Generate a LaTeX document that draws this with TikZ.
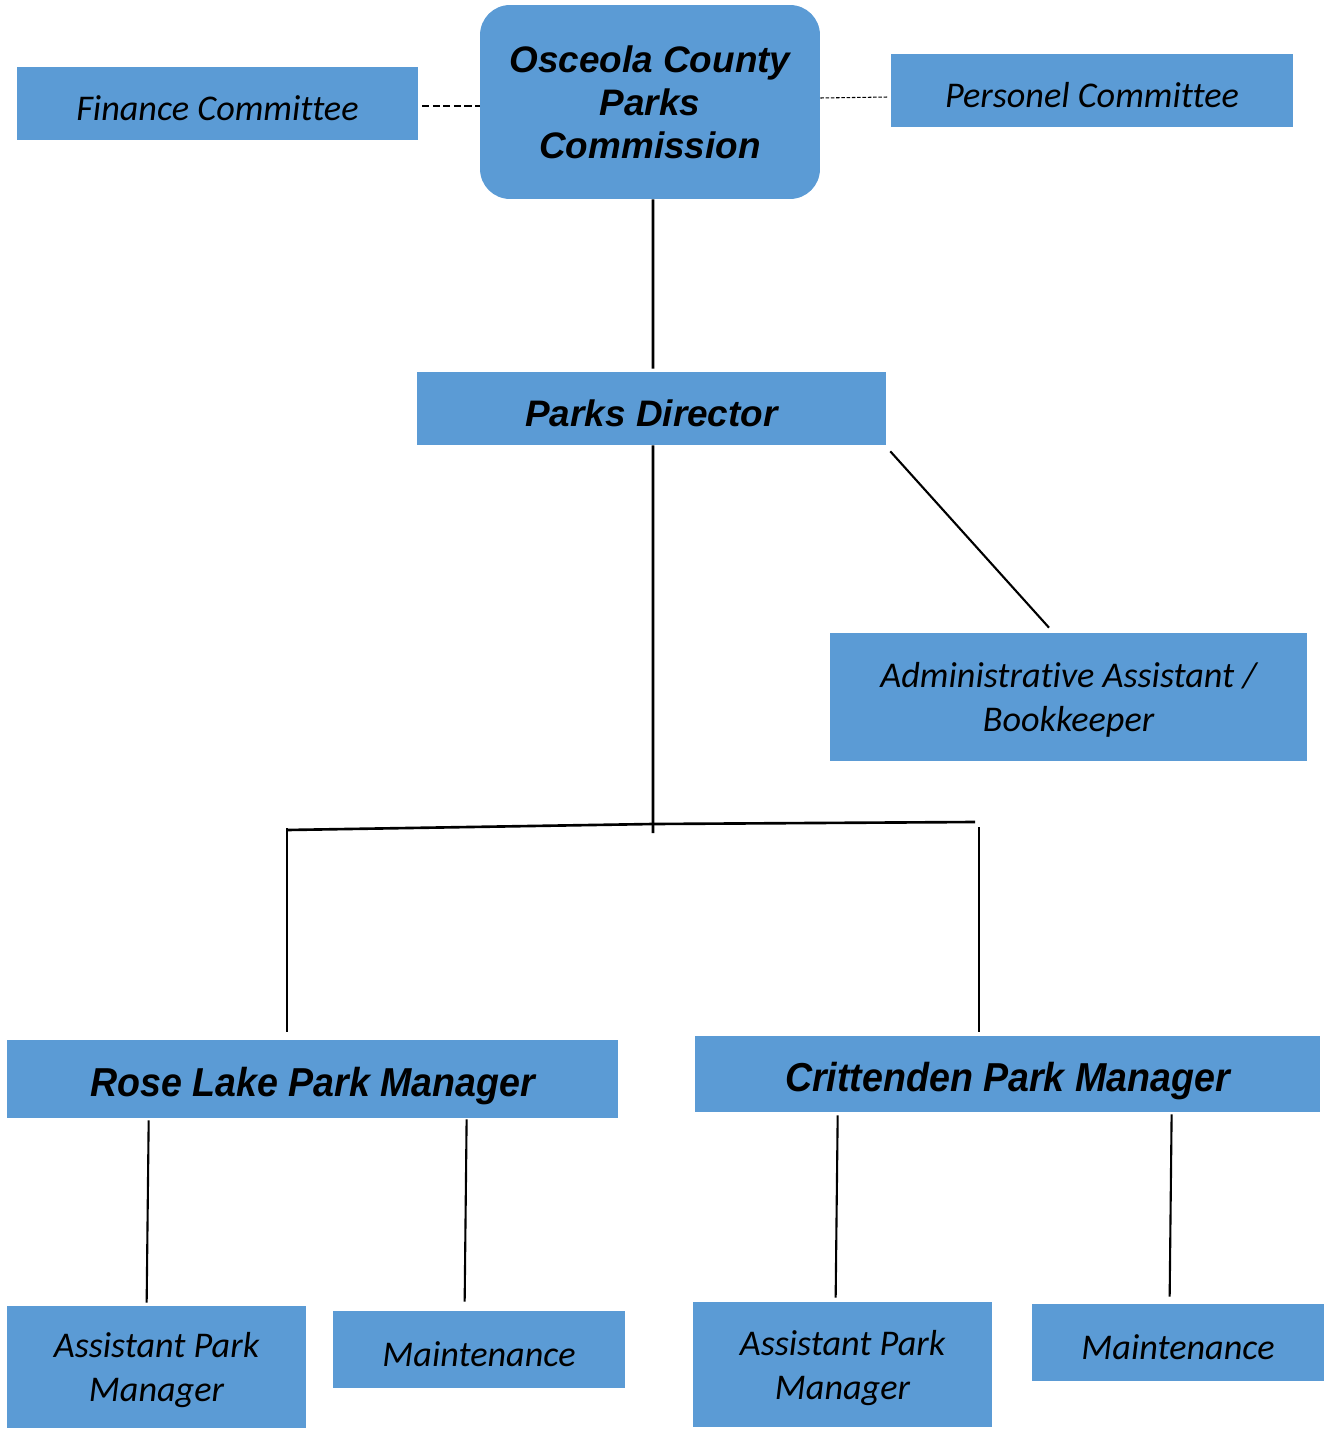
\documentclass[tikz,border=0pt]{standalone}
\usepackage{fontspec}
\setmainfont{Carlito}[Ligatures=NoCommon]
\newfontfamily\arialfont{Liberation Sans}
\newfontfamily\arialnarrow{Liberation Sans}[FakeStretch=0.93]
\usepackage{tikz}
\usetikzlibrary{positioning}
\usepackage{xcolor}
\definecolor{oscblue}{RGB}{91,155,213}
\tikzstyle{box} = [draw=none, fill=oscblue, inner sep=0pt, align=center, text depth=0pt, font=\fontsize{20.6}{25}\selectfont\itshape]
\tikzstyle{oneline} = [box, text height=19pt]
\tikzstyle{headbox} = [draw=none, fill=oscblue, inner sep=0pt, align=center, font=\fontsize{21}{24.5}\selectfont\arialfont\bfseries\itshape]
\tikzstyle{parkbox} = [box, text height=19.5pt, font=\fontsize{23}{26}\selectfont\arialnarrow\bfseries\itshape]
\tikzstyle{link} = [line width=1.5pt, black]
\tikzstyle{sublink} = [line width=1.2pt, black]

\begin{document}
\begin{tikzpicture}[x=0.02cm, y=-0.02cm]
\useasboundingbox (0,0) rectangle (1329,1429);
% commission and committees
\node[headbox, rounded corners=0.6cm, minimum width=6.8cm, minimum height=3.88cm] (comm) at (650,102) {Osceola County\\Parks\\Commission};
\node[oneline, minimum width=8.02cm, minimum height=1.46cm] (finance) at (217.5,103.5) {Finance Committee};
\node[oneline, minimum width=8.04cm, minimum height=1.46cm] (personel) at (1092,90.5) {Personel Committee};

\draw[line width=1.5pt, dash pattern=on 4pt off 2pt] ([xshift=0.08cm,yshift=-0.05cm]finance.east) -- ([yshift=-0.05cm]finance.east -| comm.west);
\draw[line width=0.6pt, dash pattern=on 2pt off 1pt] ([yshift=0.08cm]comm.east) -- ([xshift=-0.04cm,yshift=-0.13cm]personel.west);

% director
\node[headbox, text height=20pt, text depth=0pt, minimum width=9.38cm, minimum height=1.46cm] (director) at (651.5,408.5) {Parks Director};
\node[box, minimum width=9.54cm, minimum height=2.56cm] (admin) at (1068.5,697) {Administrative Assistant /\\Bookkeeper};

\draw[link] ([xshift=0.06cm]comm.south) -- ([xshift=0.03cm,yshift=0.06cm]director.north);
\draw[sublink] ([xshift=0.08cm,yshift=-0.12cm]director.south east) -- ([xshift=-0.39cm,yshift=0.1cm]admin.north);

% branch to the parks
\coordinate (hub) at (653,824);
\coordinate (barL) at (287,830);
\coordinate (barR) at (975,822);
\draw[link] ([xshift=0.03cm]director.south) -- ([yshift=-0.18cm]hub);
\draw[link] (barL) -- (hub) -- (barR);

\node[parkbox, minimum width=12.22cm, minimum height=1.56cm] (rose) at (312.5,1079) {Rose Lake Park Manager};
\node[parkbox, minimum width=12.5cm, minimum height=1.52cm] (critt) at (1007.5,1074) {Crittenden Park Manager};

\draw[link] ([yshift=0.04cm]barL) -- ([yshift=0.16cm]barL |- rose.north);
\draw[link] ([xshift=0.08cm,yshift=-0.1cm]barR) -- ([xshift=0.08cm,yshift=0.08cm]barR |- critt.north);

% staff
\node[box, minimum width=5.98cm, minimum height=2.44cm] (asstA) at (156.5,1367) {Assistant Park\\Manager};
\node[oneline, minimum width=5.84cm, minimum height=1.54cm] (maintA) at (479,1349.5) {Maintenance};
\node[box, minimum width=5.98cm, minimum height=2.5cm] (asstB) at (842.5,1364.5) {Assistant Park\\Manager};
\node[oneline, minimum width=5.84cm, minimum height=1.54cm] (maintB) at (1178,1342.5) {Maintenance};

\draw[sublink] ([xshift=2.84cm,yshift=-0.04cm]rose.south west) -- ([xshift=2.8cm,yshift=0.06cm]asstA.north west);
\draw[sublink] ([xshift=9.2cm,yshift=-0.02cm]rose.south west) -- ([xshift=2.64cm,yshift=0.18cm]maintA.north west);
\draw[sublink] ([xshift=2.86cm,yshift=-0.06cm]critt.south west) -- ([xshift=2.86cm,yshift=0.08cm]asstB.north west);
\draw[sublink] ([xshift=9.54cm,yshift=-0.04cm]critt.south west) -- ([xshift=2.76cm,yshift=0.14cm]maintB.north west);
\end{tikzpicture}
\end{document}
